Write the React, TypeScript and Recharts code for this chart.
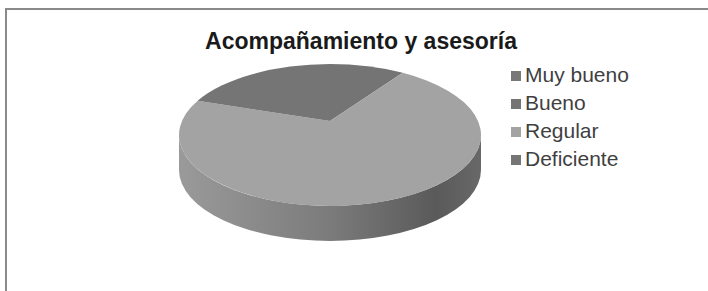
import { Legend, Pie, PieChart } from "recharts";

const categories = ["Muy bueno", "Bueno", "Regular", "Deficiente"];
const values = [0, 8, 75, 17];
const colors = ["#787878", "#747474", "#a3a3a3", "#757575"];

const chartTitle = "Acompañamiento y asesoría";

const chartData = categories.map((name, i) => ({
  name,
  value: values[i],
  fill: colors[i],
}));

const TILT = 0.47;
const DEPTH = 35;
const APEX_LIFT = 14;
const RAD = Math.PI / 180;

// flattened "3d" slice: elliptical top face + visible front wall
function Slice3D(props: any) {
  const { cx, cy, outerRadius, startAngle, endAngle, fill, index } = props;
  if (Math.abs(startAngle - endAngle) < 0.01) return <g />;

  const rx = outerRadius;
  const ry = outerRadius * TILT;
  const pt = (a: number, dy = 0) => [cx + rx * Math.cos(a * RAD), cy - ry * Math.sin(a * RAD) + dy];

  const hiA = Math.max(startAngle, endAngle);
  const loA = Math.min(startAngle, endAngle);
  const large = hiA - loA > 180 ? 1 : 0;
  const [sx, sy] = pt(hiA);
  const [ex, ey] = pt(loA);
  const top = `M${cx},${cy - APEX_LIFT} L${sx},${sy} A${rx},${ry} 0 ${large} 1 ${ex},${ey} Z`;

  // front wall between -180 and 0 degrees
  const lo = Math.max(loA, -180);
  const hi = Math.min(hiA, 0);
  let side = null;
  const gid = `wall-${index}`;
  if (lo < hi) {
    const [ax, ay] = pt(hi);
    const [bx, by] = pt(lo);
    const l2 = hi - lo > 180 ? 1 : 0;
    side = (
      <path
        d={`M${ax},${ay} A${rx},${ry} 0 ${l2} 1 ${bx},${by} L${bx},${by + DEPTH} A${rx},${ry} 0 ${l2} 0 ${ax},${ay + DEPTH} Z`}
        fill={`url(#${gid})`}
      />
    );
  }

  return (
    <g>
      <defs>
        <linearGradient id={gid} gradientUnits="userSpaceOnUse" x1={cx - rx} x2={cx + rx} y1={0} y2={0}>
          <stop offset="0" stopColor="#9a9a9a" />
          <stop offset="0.5" stopColor="#7b7b7b" />
          <stop offset="0.85" stopColor="#5a5a5a" />
          <stop offset="1" stopColor="#686868" />
        </linearGradient>
      </defs>
      {side}
      <path d={top} fill={fill} />
    </g>
  );
}

export default function App() {
  return (
    <div
      style={{
        position: "fixed",
        left: 0,
        top: 0,
        width: 708,
        height: 291,
        overflow: "hidden",
        background: "#fff",
      }}
    >
      <div
        style={{
          position: "absolute",
          left: 161,
          width: 400,
          top: 28,
          textAlign: "center",
          fontFamily: "'Liberation Sans', Arial, sans-serif",
          fontWeight: "bold",
          fontSize: 23,
          lineHeight: "26px",
          color: "#1a1a1a",
        }}
      >
        {chartTitle}
      </div>
      <div style={{ position: "absolute", left: 0, top: 0 }}>
        <PieChart width={708} height={291}>
          <Pie
            data={chartData}
            dataKey="value"
            nameKey="name"
            cx={325}
            cy={130}
            outerRadius={151}
            startAngle={90}
            endAngle={-270}
            stroke="none"
            shape={Slice3D}
            inactiveShape={Slice3D}
            activeShape={Slice3D}
            isAnimationActive={false}
          />
          <Legend
            layout="vertical"
            iconType="square"
            iconSize={10}
            itemSorter={(item: any) => categories.indexOf(item.value)}
            formatter={(value: string) => <span style={{ color: "#3f3f3f" }}>{value}</span>}
            wrapperStyle={{
              left: 511,
              top: 61,
              width: 180,
              fontFamily: "'Liberation Sans', Arial, sans-serif",
              fontSize: 21,
              lineHeight: "28px",
            }}
          />
        </PieChart>
      </div>
      <div
        style={{
          position: "absolute",
          left: 5,
          top: 8,
          width: 760,
          height: 340,
          borderTop: "2px solid #8a8a8a",
          borderLeft: "2px solid #8a8a8a",
          pointerEvents: "none",
        }}
      />
    </div>
  );
}
